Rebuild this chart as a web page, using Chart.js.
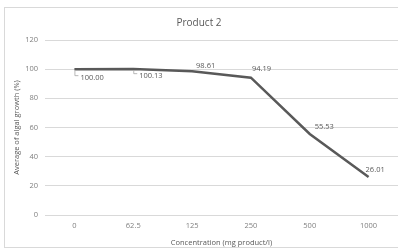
<!DOCTYPE html>
<html>
<head>
<meta charset="utf-8">
<script src="https://cdn.jsdelivr.net/npm/chart.js@4"></script>
<style>
  html, body { margin: 0; padding: 0; background: #fff; }
  #wrap { width: 398px; height: 250px; position: relative; }
</style>
</head>
<body>
<div id="wrap"><canvas id="chart"></canvas></div>
<script>
// 數據
const concentrations = ['0', '62.5', '125', '250', '500', '1000'];
const algalGrowth = [100.00, 100.13, 98.61, 94.19, 55.53, 26.01];
const growthLabels = ['100.00', '100.13', '98.61', '94.19', '55.53', '26.01'];
const yTicks = [0, 20, 40, 60, 80, 100, 120];

const FONT = '"Open Sans", sans-serif';

// where each value label sits relative to its point
const labelPlacement = [
    { dx: 6, dy: 8.5, leader: true },
    { dx: 6, dy: 6.7, leader: true },
    { dx: 4, dy: -5 },
    { dx: 1, dy: -8.6 },
    { dx: 5, dy: -7 },
    { dx: -3, dy: -7 }
];

const frame = {
    id: 'frame',
    beforeDraw(chart) {
        const c = chart.ctx;
        c.save();
        c.fillStyle = '#fff';
        c.fillRect(0, 0, chart.width, chart.height);
        c.strokeStyle = '#d9d9d9';
        c.lineWidth = 1;
        c.strokeRect(4.5, 7.5, chart.width, 240);
        c.restore();
    }
};

const valueLabels = {
    id: 'valueLabels',
    afterDatasetsDraw(chart) {
        const c = chart.ctx;
        const pts = chart.getDatasetMeta(0).data;
        c.save();
        c.font = '7.5px ' + FONT;
        c.fillStyle = '#595959';
        c.textBaseline = 'middle';
        c.textAlign = 'left';
        pts.forEach((p, i) => {
            const pl = labelPlacement[i];
            if (pl.leader) {
                c.strokeStyle = '#a6a6a6';
                c.lineWidth = 0.8;
                c.beginPath();
                c.moveTo(p.x + 0.5, p.y + 1.5);
                c.lineTo(p.x + 0.5, p.y + pl.dy - 2);
                c.lineTo(p.x + 4, p.y + pl.dy - 2);
                c.stroke();
            }
            c.fillText(growthLabels[i], p.x + pl.dx, p.y + pl.dy);
        });
        c.restore();
    }
};

new Chart(document.getElementById('chart'), {
    type: 'line',
    data: {
        labels: concentrations,
        datasets: [{
            data: algalGrowth,
            borderColor: '#595959',
            borderWidth: 2.5,
            tension: 0,
            pointRadius: 0,
            fill: false
        }]
    },
    options: {
        responsive: true,
        maintainAspectRatio: false,
        animation: false,
        layout: { padding: 0 },
        plugins: {
            legend: { display: false },
            tooltip: { enabled: false },
            title: {
                display: true,
                text: 'Product 2',
                color: '#595959',
                font: { family: FONT, size: 10, weight: 'normal', lineHeight: 1.2 },
                padding: { top: 17, bottom: 11 }
            }
        },
        scales: {
            x: {
                offset: true,
                grid: { display: false, drawTicks: false },
                border: { display: false },
                ticks: {
                    color: '#808080',
                    font: { family: FONT, size: 7.5 },
                    padding: 6,
                    maxRotation: 0
                },
                title: {
                    display: true,
                    text: 'Concentration (mg product/l)',
                    color: '#595959',
                    font: { family: FONT, size: 7.5 },
                    padding: { top: 2, bottom: 3 }
                },
                afterFit(scale) { scale.height = 35; }
            },
            y: {
                min: 0,
                max: 120,
                afterBuildTicks(scale) {
                    scale.ticks = yTicks.map(v => ({ value: v }));
                },
                grid: { color: '#d9d9d9', lineWidth: 1, drawTicks: false },
                border: { display: false },
                ticks: {
                    color: '#808080',
                    font: { family: FONT, size: 7.5 },
                    padding: 7
                },
                title: {
                    display: true,
                    text: 'Average of algal growth (%)',
                    color: '#595959',
                    font: { family: FONT, size: 7.5 },
                    padding: { top: 12, bottom: 0 }
                },
                afterFit(scale) { scale.width = 45; }
            }
        }
    },
    plugins: [frame, valueLabels]
});
</script>
</body>
</html>
